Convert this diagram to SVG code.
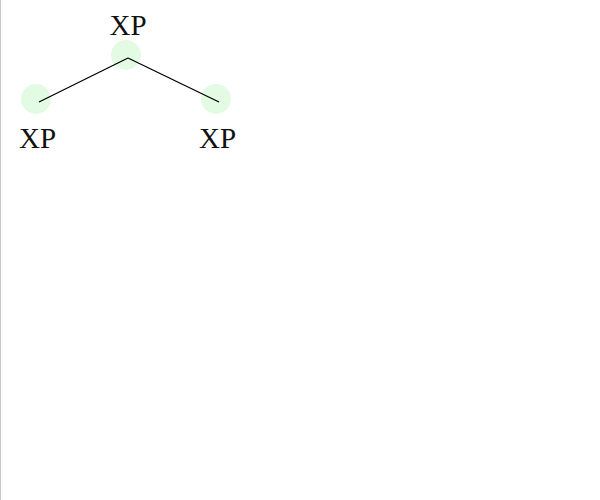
<svg xmlns="http://www.w3.org/2000/svg" width="600" height="500" viewBox="0 0 600 500">
<style>
.node circle{fill:#e2fbe2}
.node text{font-family:"Liberation Serif",serif;font-size:29px;fill:#111;text-anchor:middle}
.edges line{stroke:#000;stroke-width:1.3}
</style>
<rect width="600" height="500" fill="#fff"/>
<line x1="0.5" y1="0" x2="0.5" y2="500" stroke="#c8c8c8" stroke-width="1"/>
<g id="root" class="node"><circle cx="126" cy="55" r="15"/><text x="128" y="35">XP</text></g>
<g id="left" class="node"><circle cx="36" cy="99" r="15"/><text x="37.5" y="148">XP</text></g>
<g id="right" class="node"><circle cx="216" cy="99" r="15"/><text x="217.5" y="148">XP</text></g>
<g class="edges">
<line x1="128" y1="58" x2="39" y2="102"/>
<line x1="128" y1="58" x2="219" y2="102"/>
</g>
</svg>
